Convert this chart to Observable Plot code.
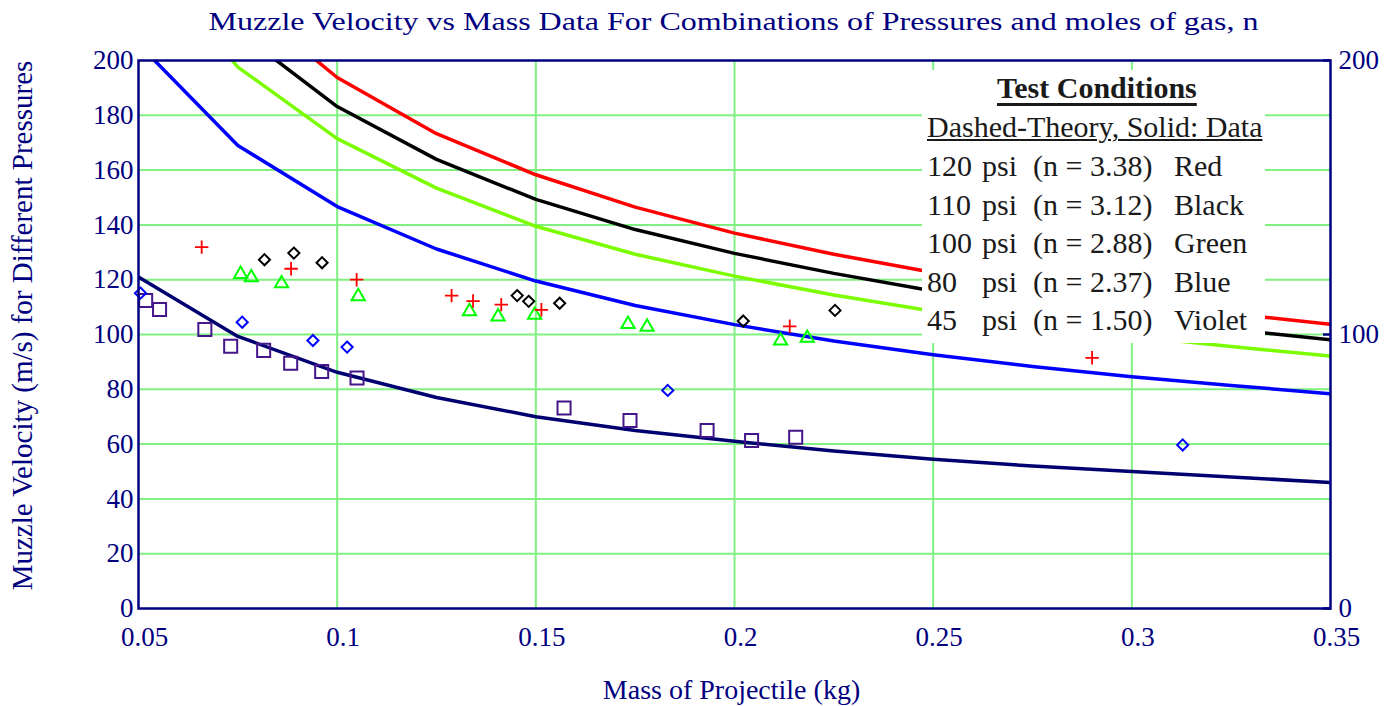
<!DOCTYPE html>
<html><head><meta charset="utf-8">
<script src="https://cdn.jsdelivr.net/npm/d3@7"></script>
<script src="https://cdn.jsdelivr.net/npm/@observablehq/plot@0.6"></script>
<style>
html,body{margin:0;padding:0;background:#fff;}
#wrap{position:relative;width:1390px;height:706px;overflow:hidden;font-family:"Liberation Serif","Times New Roman",serif;}
#title{position:absolute;left:138px;width:1192px;top:7px;text-align:center;font-size:26px;line-height:30px;color:#000080;white-space:nowrap;}
#title span{display:inline-block;transform-origin:50% 50%;}
#chart{position:absolute;left:0;top:48px;}
#legend{position:absolute;left:922px;top:70px;width:343px;height:273px;background:#fff;color:#1a1a1a;font-size:30px;line-height:30px;}
#legend div{position:absolute;white-space:pre;}
</style>
</head><body>
<div id="wrap">
  <div id="title"><span></span></div>
  <div id="chart"></div>
  <div id="legend"></div>
</div>
<script>
// ---- data ----
const titleText = "Muzzle Velocity vs Mass Data For Combinations of Pressures and moles of gas, n";
const xLabel = "Mass of Projectile (kg)";
const yLabel = "Muzzle Velocity (m/s) for Different Pressures";

const xTicks = [0.05, 0.1, 0.15, 0.2, 0.25, 0.3, 0.35];
const yTicks = [0, 20, 40, 60, 80, 100, 120, 140, 160, 180, 200];
const yTicksRight = [0, 100, 200];

// solid curves sampled at these masses (kg)
const massGrid = [0.05, 0.075, 0.1, 0.125, 0.15, 0.175, 0.2, 0.225, 0.25, 0.275, 0.3, 0.325, 0.35];
const curve120 = [272, 223.5, 193.8, 173.3, 158.3, 146.5, 137.0, 129.3, 122.6, 116.9, 112.0, 107.6, 103.7];
const curve110 = [257, 210.7, 183.2, 163.9, 149.3, 138.3, 129.6, 122.3, 115.9, 110.5, 105.9, 101.8, 98.1];
const curve100 = [241, 197.6, 171.5, 153.4, 139.5, 129.3, 121.3, 114.4, 108.5, 103.5, 99.4, 95.6, 92.1];
const curve80  = [206, 169, 146.7, 131.2, 119.5, 110.6, 103.6, 97.6, 92.6, 88.3, 84.6, 81.4, 78.4];
const curve45  = [121, 99.3, 86.2, 77, 70, 65, 61, 57.5, 54.5, 52, 50, 48, 46];

// measured points
const p120Mass = [0.0659, 0.0884, 0.1049, 0.1288, 0.1342, 0.1413, 0.1514, 0.2139, 0.2900];
const p120Vel  = [131.9, 124.0, 120.0, 114.2, 112.2, 110.9, 109.0, 103.0, 91.5];
const p110Mass = [0.0817, 0.0891, 0.0962, 0.1453, 0.1482, 0.1560, 0.2022, 0.2253];
const p110Vel  = [127.3, 129.7, 126.2, 114.2, 112.1, 111.4, 104.9, 108.8];
const p100Mass = [0.0757, 0.0784, 0.0860, 0.1053, 0.1333, 0.1405, 0.1497, 0.1732, 0.1780, 0.2116, 0.2183];
const p100Vel  = [122.0, 120.8, 118.6, 113.9, 108.4, 106.5, 107.1, 103.8, 102.8, 97.7, 98.7];
const p80Mass  = [0.0505, 0.0761, 0.0939, 0.1025, 0.1832, 0.3128];
const p80Vel   = [115.1, 104.5, 97.8, 95.4, 79.6, 59.7];
const p45Mass  = [0.0518, 0.0553, 0.0667, 0.0732, 0.0815, 0.0883, 0.0961, 0.1050, 0.1571, 0.1737, 0.1931, 0.2043, 0.2154];
const p45Vel   = [112.4, 109.1, 101.8, 95.7, 94.2, 89.5, 86.5, 84.1, 73.2, 68.6, 65.0, 61.3, 62.5];

// legend text
const legendTitle = "Test Conditions";
const legendSub = "Dashed-Theory, Solid: Data";
const legendPressures = ["120", "110", "100", "80", "45"];
const legendMoles = ["3.38", "3.12", "2.88", "2.37", "1.50"];
const legendNames = ["Red", "Black", "Green", "Blue", "Violet"];

// ---- build ----
const navy = "#000080";
const gridColor = "#80f080";
const serif = "Liberation Serif";
const zip = (xs, ys) => xs.map((x, i) => ({m: x, v: ys[i]}));

const curves = [
  {data: curve45, stroke: "#000070"},
  {data: curve80, stroke: "#0000ff"},
  {data: curve100, stroke: "#7cfc00"},
  {data: curve110, stroke: "#000000"},
  {data: curve120, stroke: "#ff0000"}
];
const points = [
  {mass: p45Mass, vel: p45Vel, symbol: "square2", stroke: "#45168a", r: 8.3, sw: 2},
  {mass: p80Mass, vel: p80Vel, symbol: "diamond2", stroke: "#0000ff", r: 5, sw: 2},
  {mass: p100Mass, vel: p100Vel, symbol: "triangle2", stroke: "#00ff00", r: 6.3, sw: 2},
  {mass: p110Mass, vel: p110Vel, symbol: "diamond2", stroke: "#000000", r: 5, sw: 2},
  {mass: p120Mass, vel: p120Vel, symbol: "plus", stroke: "#ff0000", r: 4.4, sw: 1.8}
];

const chart = Plot.plot({
  width: 1390,
  height: 658,
  marginLeft: 138,
  marginRight: 60,
  marginTop: 12,
  marginBottom: 98,
  style: {fontFamily: serif, color: navy, background: "transparent", overflow: "visible"},
  x: {domain: [0.05, 0.35]},
  y: {domain: [0, 200]},
  marks: [
    Plot.gridX(xTicks.slice(1, -1), {stroke: gridColor, strokeOpacity: 1, strokeWidth: 2}),
    Plot.gridY(yTicks.slice(1, -1), {stroke: gridColor, strokeOpacity: 1, strokeWidth: 2}),
    ...curves.map(c => Plot.line(zip(massGrid, c.data), {x: "m", y: "v", stroke: c.stroke, strokeWidth: 3.5, clip: true})),
    ...points.map(p => Plot.dot(zip(p.mass, p.vel), {x: "m", y: "v", symbol: p.symbol, r: p.r, stroke: p.stroke, strokeWidth: p.sw, fill: "none"})),
    Plot.frame({stroke: navy, strokeWidth: 2.5}),
    Plot.axisX(xTicks, {anchor: "bottom", tickSize: 0, tickPadding: 18, dx: 6, fontSize: 27, fontFamily: serif, label: null, tickFormat: d => String(d)}),
    Plot.axisY(yTicks, {anchor: "left", tickSize: 0, tickPadding: 5, fontSize: 27, fontFamily: serif, label: null}),
    Plot.axisY(yTicksRight, {anchor: "right", tickSize: -8, tickPadding: 16, strokeWidth: 2.5, stroke: navy, fontSize: 27, fontFamily: serif, label: null}),
    Plot.text([yLabel], {text: d => d, frameAnchor: "left", textAnchor: "middle", rotate: -90, dx: -116, dy: -9, fontSize: 29, fontFamily: serif, fill: navy}),
    Plot.text([xLabel], {text: d => d, frameAnchor: "bottom", textAnchor: "middle", dx: -3, dy: 90, fontSize: 28, fontFamily: serif, fill: navy})
  ]
});
document.getElementById("chart").appendChild(chart);

// title, stretched horizontally to the reference's width
const tspan = document.querySelector("#title span");
tspan.textContent = titleText;
const tw = tspan.getBoundingClientRect().width;
if (tw > 0) tspan.style.transform = `scaleX(${1050 / tw})`;

// legend
const lg = document.getElementById("legend");
function addText(txt, left, top, extra) {
  const d = document.createElement("div");
  d.textContent = txt;
  d.style.left = left + "px";
  d.style.top = top + "px";
  Object.assign(d.style, extra || {});
  lg.appendChild(d);
  return d;
}
addText(legendTitle, 75, 3, {fontWeight: "bold", textDecoration: "underline", textDecorationThickness: "3px", textUnderlineOffset: "5px"});
addText(legendSub, 5, 42, {textDecoration: "underline", textDecorationThickness: "2px", textUnderlineOffset: "2px"});
legendPressures.forEach((p, i) => {
  const top = 81 + i * 38.5;
  addText(p, 5, top);
  addText("psi", 60, top);
  addText("(n = " + legendMoles[i] + ")", 111, top);
  addText(legendNames[i], 252, top);
});
</script>
</body></html>
